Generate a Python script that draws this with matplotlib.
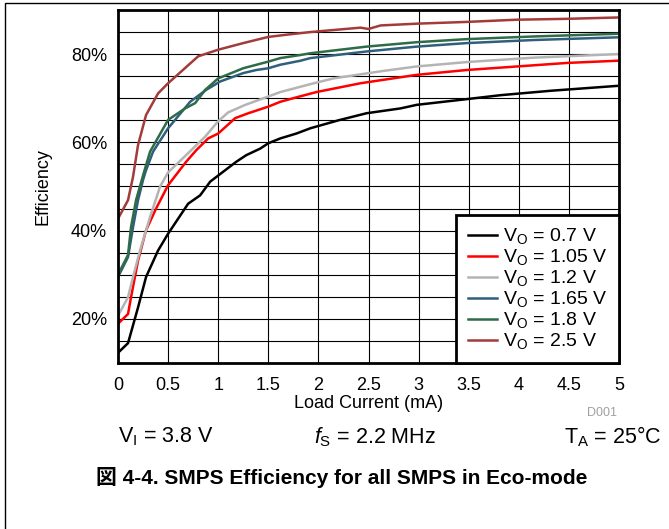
import matplotlib
matplotlib.use("Agg")
import matplotlib.pyplot as plt
from matplotlib.patches import Rectangle

plt.rcParams["font.family"] = ["Liberation Sans", "DejaVu Sans"]
plt.rcParams["mathtext.fontset"] = "custom"
plt.rcParams["mathtext.rm"] = "Liberation Sans"
plt.rcParams["mathtext.it"] = "Liberation Sans:italic"

# load current (mA) / efficiency (%)
x_07 = [0, 0.1, 0.2, 0.28, 0.4, 0.5, 0.7, 0.82, 0.92, 1.18, 1.28, 1.42, 1.5, 1.62, 1.78,
        1.92, 2.2, 2.48, 2.82, 2.98, 3.48, 3.82, 4.32, 4.98]
y_07 = [12.3, 14.5, 22.6, 29.5, 35.5, 39.3, 46.1, 48.0, 51.1, 55.6, 57.1, 58.6, 59.8, 60.9, 62.0,
        63.2, 65.0, 66.6, 67.7, 68.5, 69.8, 70.7, 71.7, 72.8]

x_105 = [0, 0.1, 0.13, 0.2, 0.28, 0.38, 0.5, 0.68, 0.78, 0.9, 1.0, 1.17, 1.3, 1.5, 1.62, 1.78,
         1.98, 2.42, 2.98, 3.48, 3.98, 4.48, 4.98]
y_105 = [18.9, 21.1, 24.9, 33.2, 40.1, 45.0, 50.3, 55.6, 58.2, 60.9, 62.0, 65.5, 66.6, 68.1, 69.2, 70.2,
         71.4, 73.4, 75.3, 76.4, 77.2, 78.0, 78.5]

x_12 = [0, 0.1, 0.15, 0.22, 0.32, 0.42, 0.5, 0.67, 0.87, 1.0, 1.1, 1.27, 1.5, 1.62, 1.92,
        2.15, 2.65, 2.98, 3.48, 4.15, 4.98]
y_12 = [20.7, 24.9, 29.5, 35.5, 43.1, 50.0, 53.2, 56.9, 61.3, 64.8, 66.8, 68.5, 70.4, 71.4, 73.2,
        74.5, 76.2, 77.2, 78.2, 79.2, 80.0]

x_165 = [0, 0.1, 0.15, 0.2, 0.25, 0.28, 0.35, 0.5, 0.72, 0.88, 1.02, 1.25, 1.38, 1.5, 1.62, 1.82,
         1.92, 2.48, 2.98, 3.48, 4.15, 4.98]
y_165 = [29.5, 34.0, 40.8, 46.9, 51.5, 53.7, 57.9, 63.2, 69.2, 71.9, 73.8, 75.7, 76.4, 76.8, 77.6, 78.5,
         79.1, 80.6, 81.7, 82.5, 83.2, 83.8]

x_18 = [0, 0.1, 0.13, 0.18, 0.25, 0.32, 0.5, 0.67, 0.77, 0.87, 1.0, 1.25, 1.5, 1.62, 1.82, 1.92,
        2.48, 2.98, 3.48, 4.15, 4.98]
y_18 = [30.0, 34.5, 40.8, 46.9, 52.5, 57.9, 65.1, 67.7, 68.9, 71.9, 74.5, 76.8, 78.3, 79.1, 79.8, 80.2,
        81.7, 82.7, 83.4, 84.0, 84.6]

x_25 = [0, 0.1, 0.15, 0.2, 0.28, 0.4, 0.5, 0.8, 1.0, 1.25, 1.5, 1.72, 1.92, 2.42, 2.5, 2.62,
        2.98, 3.48, 3.98, 4.48, 4.98]
y_25 = [42.7, 46.9, 52.2, 59.4, 66.2, 71.1, 73.4, 79.5, 81.0, 82.5, 83.9, 84.5, 85.0, 86.0, 85.7, 86.5,
        86.9, 87.3, 87.8, 88.0, 88.3]

labels = ["0.7 V", "1.05 V", "1.2 V", "1.65 V", "1.8 V", "2.5 V"]
colors = ["#000000", "#ff0000", "#b4b4b4", "#2f5f7d", "#2e6b47", "#a33b3b"]
x_ticks = [0, 0.5, 1, 1.5, 2, 2.5, 3, 3.5, 4, 4.5, 5]
y_ticks = [20, 40, 60, 80]

series = [(x_07, y_07), (x_105, y_105), (x_12, y_12), (x_165, y_165), (x_18, y_18), (x_25, y_25)]

fig = plt.figure(figsize=(6.69, 5.29), dpi=100)
ax = fig.add_axes([118 / 669, 1 - 363 / 529, 501 / 669, 353 / 529])

for (xs, ys), lab, col in zip(series, labels, colors):
    ax.plot(xs, ys, color=col, lw=1.8, label=r"V$_\mathregular{O}$ = " + lab)

ax.set_xlim(0, 5)
ax.set_ylim(10, 90)
ax.set_xticks(x_ticks)
ax.set_xticklabels([f"{t:g}" for t in x_ticks])
ax.set_yticks(y_ticks)
ax.set_yticklabels([f"{t}%" for t in y_ticks])
ax.set_yticks(range(15, 90, 5), minor=True)
ax.grid(True, which="both", color="black", lw=0.8)
ax.set_axisbelow(True)
ax.tick_params(which="both", length=0, labelsize=13)
ax.tick_params(axis="x", pad=10)
ax.tick_params(axis="y", pad=8)
for s in ax.spines.values():
    s.set_linewidth(2)

ax.set_xlabel("Load Current (mA)", fontsize=13, labelpad=1)
ax.set_ylabel("Efficiency", fontsize=13, labelpad=14)

leg = ax.legend(loc="lower right", fontsize=14, frameon=True, fancybox=False,
                framealpha=1, edgecolor="black", borderaxespad=0, handlelength=1.5,
                labelspacing=0.05, borderpad=0.6, handletextpad=0.3)
leg.get_frame().set_linewidth(2)

fig.text(617 / 669, 1 - 413 / 529, "D001", color="#a0a0a0", fontsize=9, ha="right", va="center")
fig.text(118 / 669, 1 - 437 / 529, r"V$_\mathregular{I}$ = 3.8 V", fontsize=15.5, ha="left", va="center")
fig.text(375 / 669, 1 - 437 / 529, r"$\mathit{f}_\mathregular{S}$ = 2.2 MHz", fontsize=15.5, ha="center", va="center")
fig.text(662 / 669, 1 - 437 / 529, r"T$_\mathregular{A}$ = 25°C", fontsize=15.5, ha="right", va="center")
fig.text(342 / 669, 1 - 477 / 529, "図 4-4. SMPS Efficiency for all SMPS in Eco-mode",
         fontsize=15, fontweight="bold", ha="center", va="center",
         family=["Liberation Sans", "Noto Sans CJK JP"])

fig.patches.append(Rectangle((5 / 669, -0.1), 2, 1 - 3 / 529 + 0.1, transform=fig.transFigure,
                             fill=False, edgecolor="black", lw=1))

fig.savefig("out.png", dpi=100)
